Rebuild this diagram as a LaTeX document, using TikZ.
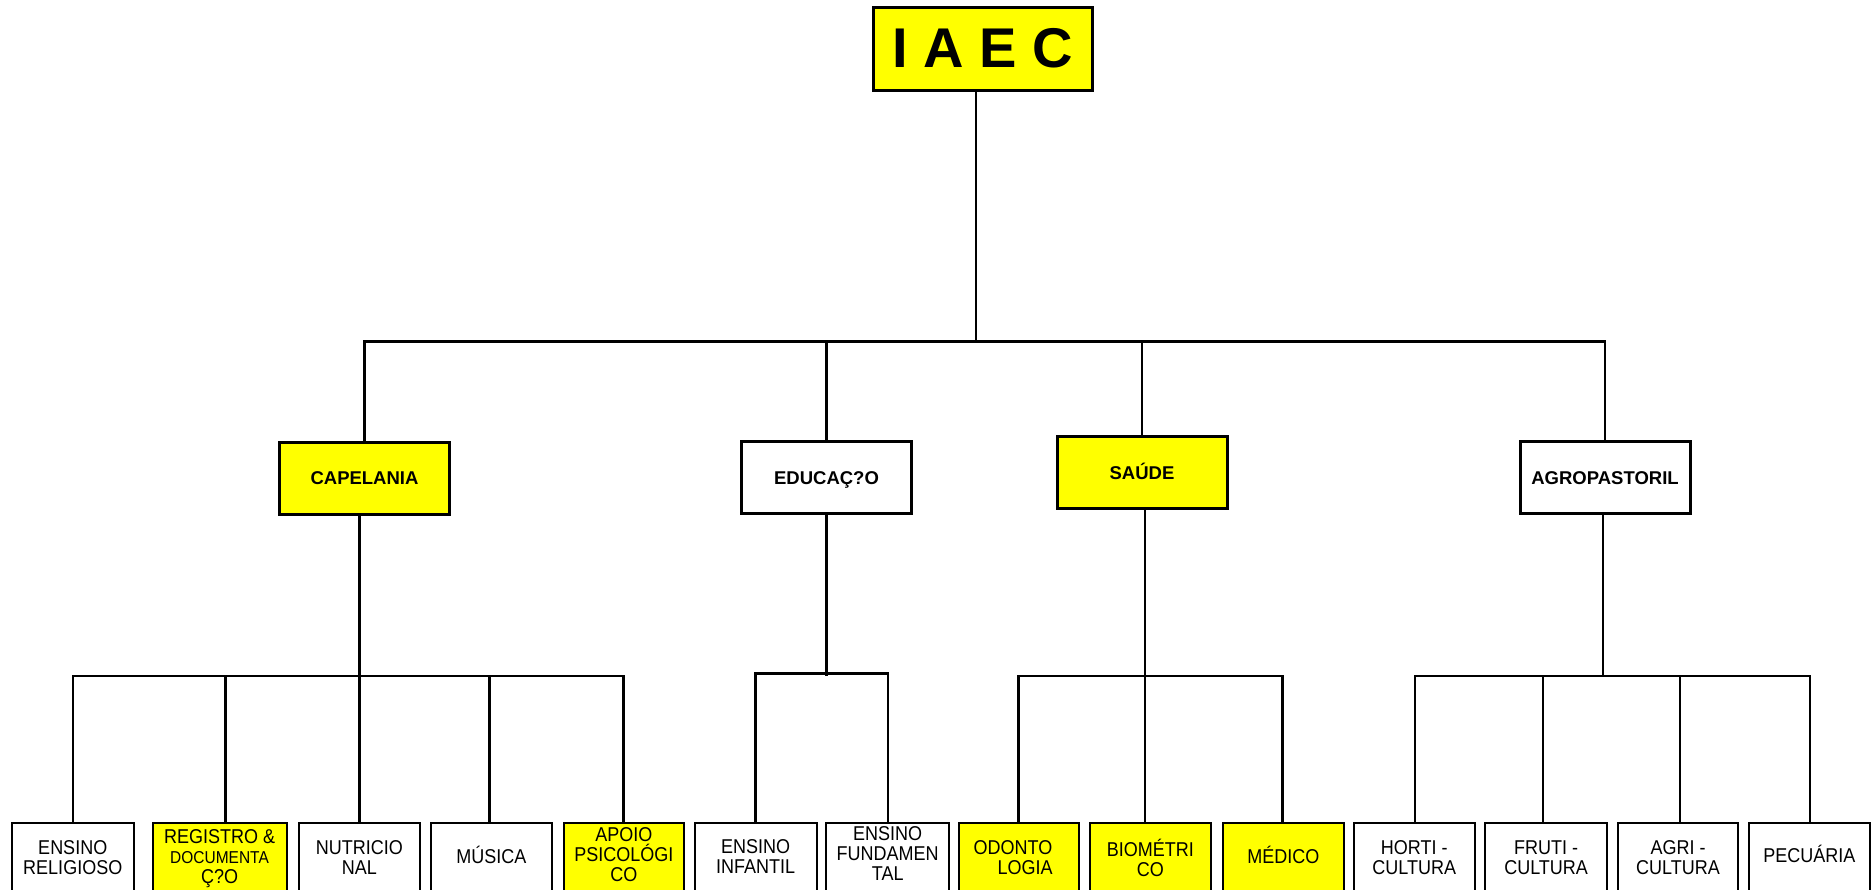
\documentclass[tikz,border=0pt]{standalone}
\usepackage{fontspec}
\setmainfont{Liberation Sans}
\newfontfamily\leaffont[FakeStretch=0.9]{Liberation Sans}
\definecolor{boxyellow}{RGB}{255,255,0}

\begin{document}
\begin{tikzpicture}[x=0.5pt,y=-0.5pt,
  conn/.style={line width=1.2pt, line join=miter},
  topbox/.style={draw, line width=1.5pt, fill=boxyellow, minimum width=109.5pt,
    minimum height=41.5pt, inner sep=0pt, font=\fontsize{28}{30}\selectfont\bfseries},
  areabox/.style={draw, line width=1.5pt, minimum width=85pt, minimum height=36pt,
    inner sep=0pt, text height=6.62pt, text depth=0pt,
    font=\fontsize{9.25}{11}\selectfont\bfseries},
  leafbox/.style={draw, line width=1pt, anchor=north, minimum height=37pt, inner sep=0pt},
  leaftext/.style={align=center, inner sep=0pt, font=\leaffont\fontsize{10}{10}\selectfont},
  hl/.style={fill=boxyellow},
  plain/.style={fill=white},
]
\useasboundingbox (0,0) rectangle (1872,889);
\clip (0,0) rectangle (1872,889);
\fill[white] (0,0) rectangle (1872,889);

% ---- top level ----
\node[topbox] (iaec) at (982.5,48.5) {I A E C};

% ---- areas ----
\node[areabox, hl]    (cap) at (364.5,478)   {CAPELANIA};
\node[areabox, plain] (edu) at (826.5,477.8) {EDUCAÇ?O};
\node[areabox, hl]    (sau) at (1142,472.5)  {SAÚDE};
\node[areabox, plain] (agr) at (1605,477.5)  {AGROPASTORIL};

% ---- units (boxes run past the lower edge) ----
\node[leafbox, plain, minimum width=60.75pt] (l1)  at (72.75,822)   {};
\node[leafbox, hl,    minimum width=67pt]    (l2)  at (219.55,822)  {};
\node[leafbox, plain, minimum width=60.85pt] (l3)  at (359.35,822)  {};
\node[leafbox, plain, minimum width=60.3pt]  (l4)  at (491.3,822)   {};
\node[leafbox, hl,    minimum width=60.3pt]  (l5)  at (623.8,822)   {};
\node[leafbox, plain, minimum width=60.9pt]  (l6)  at (755.7,822)   {};
\node[leafbox, plain, minimum width=61.5pt]  (l7)  at (887.7,822)   {};
\node[leafbox, hl,    minimum width=60.3pt]  (l8)  at (1019,822)    {};
\node[leafbox, hl,    minimum width=60.3pt]  (l9)  at (1150.3,822)  {};
\node[leafbox, hl,    minimum width=60.85pt] (l10) at (1283.45,822) {};
\node[leafbox, plain, minimum width=60.3pt]  (l11) at (1414.2,822)  {};
\node[leafbox, plain, minimum width=60.9pt]  (l12) at (1546.1,822)  {};
\node[leafbox, plain, minimum width=60.3pt]  (l13) at (1678,822)    {};
\node[leafbox, plain, minimum width=60.3pt]  (l14) at (1809.3,822)  {};

% ---- unit labels ----
\node[leaftext] (t1)  at (72.75,858)    {ENSINO\\RELIGIOSO};
\node[leaftext] (t2)  at (219.55,859)   {REGISTRO \&\\\fontsize{8.6}{9.4}\selectfont DOCUMENTA\\Ç?O};
\node[leaftext] (t3)  at (359.35,857.5) {NUTRICIO\\NAL};
\node[leaftext] (t4)  at (491.3,855)    {MÚSICA};
\node[leaftext] (t5)  at (623.8,854.5)  {APOIO\\PSICOLÓGI\\CO};
\node[leaftext] (t6)  at (755.7,857)    {ENSINO\\INFANTIL};
\node[leaftext] (t7)  at (887.7,853.5)  {ENSINO\\FUNDAMEN\\TAL};
\node[leaftext] (t8)  at (1019,858)     {ODONTO\hspace*{6pt}\\\hspace*{6pt}LOGIA};
\node[leaftext] (t9)  at (1150.3,858)   {BIOMÉTRI\\CO};
\node[leaftext] (t10) at (1283.45,855)  {MÉDICO};
\node[leaftext] (t11) at (1414.2,857.5) {HORTI -\\CULTURA};
\node[leaftext] (t12) at (1546.1,857.5) {FRUTI -\\CULTURA};
\node[leaftext] (t13) at (1678,857.5)   {AGRI -\\CULTURA};
\node[leaftext] (t14) at (1809.3,854)   {PECUÁRIA};

% ---- junction points ----
\coordinate (hub) at (976,341.5);
\coordinate (jc)  at (359.5,675.7);
\coordinate (je)  at (826.5,673.5);
\coordinate (js)  at (1145,675.7);
\coordinate (ja)  at (1603,675.7);

\coordinate (c1) at (72.8,675.7);
\coordinate (c2) at (225.6,675.7);
\coordinate (c4) at (489.6,675.7);
\coordinate (c5) at (623.5,675.7);
\coordinate (e1) at (755.5,673.5);
\coordinate (e2) at (888,673.5);
\coordinate (s1) at (1018.4,675.7);
\coordinate (s3) at (1282.3,675.7);
\coordinate (a1) at (1415,675.7);
\coordinate (a2) at (1543,675.7);
\coordinate (a3) at (1680,675.7);
\coordinate (a4) at (1810,675.7);

% ---- connectors: top level to areas ----
\draw[conn] (hub |- iaec.south) -- (hub);
\draw[conn] (cap.north) |- (hub) -| (agr.north);
\draw[conn] (edu.north) -- (edu.north |- hub);
\draw[conn] (sau.north) -- (sau.north |- hub);

% ---- CAPELANIA ----
\draw[conn] (jc |- cap.south) -- (jc);
\draw[conn] (c1 |- l1.north) -- (c1) -- (c5) -- (c5 |- l5.north);
\draw[conn] (c2) -- (c2 |- l2.north);
\draw[conn] (jc) -- (jc |- l3.north);
\draw[conn] (c4) -- (c4 |- l4.north);

% ---- EDUCAÇÃO ----
\draw[conn] (je |- edu.south) -- ([yshift=-1.2pt]je);
\draw[conn] (e1 |- l6.north) -- (e1) -- (e2) -- (e2 |- l7.north);

% ---- SAÚDE ----
\draw[conn] (js |- sau.south) -- (js);
\draw[conn] (s1 |- l8.north) -- (s1) -- (s3) -- (s3 |- l10.north);
\draw[conn] (js) -- (js |- l9.north);

% ---- AGROPASTORIL ----
\draw[conn] (ja |- agr.south) -- (ja);
\draw[conn] (a1 |- l11.north) -- (a1) -- (a4) -- (a4 |- l14.north);
\draw[conn] (a2) -- (a2 |- l12.north);
\draw[conn] (a3) -- (a3 |- l13.north);
\end{tikzpicture}
\end{document}
